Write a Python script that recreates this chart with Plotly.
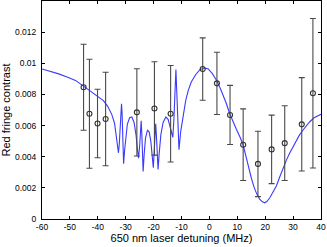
import plotly.graph_objects as go

# Measured data points
det_mhz = [-45.1, -43.0, -40.1, -37.2, -26.0, -19.7, -13.9, -2.4, 2.7, 7.4, 12.1, 17.4, 22.3, 27.0, 33.1, 37.1]
contrast = [0.00846, 0.00676, 0.00613, 0.00642, 0.00685, 0.0071, 0.00676, 0.00963, 0.00871, 0.00668,
            0.00477, 0.00354, 0.00447, 0.00487, 0.00608, 0.00808]
contrast_err = [0.00276, 0.0035, 0.0022, 0.0030, 0.0028, 0.0030, 0.0031, 0.0020, 0.0020, 0.0019,
                0.0023, 0.0021, 0.0022, 0.0024, 0.0030, 0.0048]

# Model curve
model_x = [-60, -57, -54, -51, -48, -45, -42, -40, -38, -36.5, -35, -34, -33.3, -32.9, -32.6, -32.3, -32.0,
           -31.7, -31.5, -31.3, -31.1, -30.9, -30.75, -30.4, -30.0, -29.4, -28.6, -27.8, -27.0, -26.3,
           -25.8, -25.4, -25.0, -24.7, -24.45, -24.2, -24.0, -23.75, -23.4, -22.9, -22.2, -21.6, -21.0,
           -20.5, -20.1, -19.8, -19.5, -19.25, -19.0, -18.7, -18.4, -18.0, -17.4, -16.6, -15.6, -14.8,
           -14.0, -13.4, -13.1, -12.7, -12.3, -12.0, -11.7, -11.3, -10.9, -10.3, -9.4, -8.5, -7.6, -6.5,
           -5.0, -3.5, -2.0, -0.5, 1.0, 2.6, 4.0, 5.0, 6.0, 7.3, 8.5, 9.7, 11.0, 12.1, 13.0, 14.0, 15.0,
           16.0, 17.0, 18.0, 19.0, 19.8, 20.6, 21.6, 22.8, 24.0, 25.2, 26.4, 27.6, 28.75, 30.0, 31.1,
           32.3, 33.5, 34.7, 35.9, 37.5, 39.0, 40.0]
model_y = [0.00963, 0.00948, 0.00932, 0.00912, 0.00890, 0.00852, 0.00815, 0.00790, 0.00760, 0.00725,
           0.00672, 0.00615, 0.00530, 0.00470, 0.00425, 0.00480, 0.00580, 0.00700, 0.00740, 0.00680,
           0.00540, 0.00400, 0.00355, 0.00440, 0.00530, 0.00610, 0.00650, 0.00655, 0.00620, 0.00540,
           0.00450, 0.00390, 0.00470, 0.00580, 0.00630, 0.00540, 0.00400, 0.00305, 0.00410, 0.00520,
           0.00570, 0.00560, 0.00500, 0.00410, 0.00330, 0.00430, 0.00560, 0.00612, 0.00540, 0.00410,
           0.00318, 0.00420, 0.00540, 0.00620, 0.00655, 0.00640, 0.00590, 0.00540, 0.00525, 0.00650,
           0.00880, 0.00960, 0.00820, 0.00600, 0.00445, 0.00560, 0.00660, 0.00760, 0.00825, 0.00880,
           0.00925, 0.00958, 0.00970, 0.00965, 0.00935, 0.00889, 0.00835, 0.00793, 0.00745, 0.00676,
           0.00622, 0.00575, 0.00525, 0.00475, 0.00410, 0.00330, 0.00265, 0.00205, 0.00160, 0.00128,
           0.00110, 0.00104, 0.00112, 0.00135, 0.00172, 0.00212, 0.00270, 0.00326, 0.00378, 0.00422,
           0.00466, 0.00506, 0.00540, 0.00570, 0.00598, 0.00623, 0.00650, 0.00666, 0.00672]

x_ticks = [-60, -50, -40, -30, -20, -10, 0, 10, 20, 30, 40]
x_tick_labels = ["-60", "-50", "-40", "-30", "-20", "-10", "0", "10", "20", "30", "40"]
y_ticks = [0, 0.002, 0.004, 0.006, 0.008, 0.01, 0.012]
y_tick_labels = ["0", "0.002", "0.004", "0.006", "0.008", "0.01", "0.012"]

FONT = "Liberation Sans, Arial, Helvetica, sans-serif"

fig = go.Figure()
fig.add_trace(go.Scatter(x=model_x, y=model_y, mode="lines",
                         line=dict(color="#3a3aff", width=1.1), hoverinfo="skip"))
fig.add_trace(go.Scatter(
    x=det_mhz, y=contrast, mode="markers",
    marker=dict(symbol="circle-open", size=5, color="#333333", line=dict(width=1.1, color="#333333")),
    error_y=dict(type="data", array=contrast_err, visible=True, color="#4a4a4a", thickness=1.1, width=3),
))

axis_common = dict(showline=True, linecolor="black", linewidth=1, mirror="allticks",
                   ticks="inside", ticklen=3, tickwidth=1, tickcolor="black",
                   showgrid=False, zeroline=False,
                   tickfont=dict(family=FONT, size=8.5, color="black"))

fig.update_layout(
    width=327, height=247,
    margin=dict(l=42, r=6, t=1, b=28),
    paper_bgcolor="white", plot_bgcolor="white",
    showlegend=False,
    font=dict(family=FONT, color="black"),
    xaxis=dict(range=[-60, 40], tickvals=x_ticks, ticktext=x_tick_labels,
               title=dict(text="650 nm laser detuning (MHz)", font=dict(family=FONT, size=11), standoff=2),
               **axis_common),
    yaxis=dict(range=[0, 0.014], tickvals=y_ticks, ticktext=y_tick_labels, ticklabelstandoff=3,
               title=dict(text="Red fringe contrast", font=dict(family=FONT, size=11), standoff=2),
               **axis_common),
)

fig.write_html("out.html", config={"displayModeBar": False},
               post_script="document.body.style.margin='0';document.body.style.overflow='hidden';")
